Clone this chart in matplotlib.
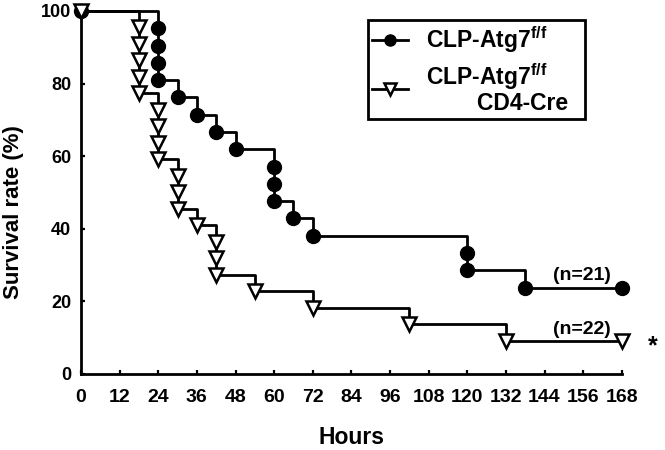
import matplotlib
matplotlib.use('Agg')
import matplotlib.pyplot as plt
from matplotlib.lines import Line2D

# survival data (hours, % surviving)
hours_ff = [0, 24, 24, 24, 24, 30, 36, 42, 48, 60, 60, 60, 66, 72, 120, 120, 138, 168]
surv_ff = [100, 95.24, 90.48, 85.71, 80.95, 76.19, 71.43, 66.67, 61.90, 57.14, 52.38,
           47.62, 42.86, 38.10, 33.33, 28.57, 23.81, 23.81]

hours_cre = [0, 18, 18, 18, 18, 18, 24, 24, 24, 24, 30, 30, 30, 36, 42, 42, 42, 54, 72,
             102, 132, 168]
surv_cre = [100, 95.45, 90.91, 86.36, 81.82, 77.27, 72.73, 68.18, 63.64, 59.09, 54.55,
            50.00, 45.45, 40.91, 36.36, 31.82, 27.27, 22.73, 18.18, 13.64, 9.09, 9.09]

x_ticks = list(range(0, 169, 12))
y_ticks = [0, 20, 40, 60, 80, 100]

plt.rcParams['font.family'] = 'Liberation Sans'
plt.rcParams['font.weight'] = 'bold'
plt.rcParams['mathtext.fontset'] = 'custom'
plt.rcParams['mathtext.rm'] = 'Liberation Sans:bold'
plt.rcParams['mathtext.it'] = 'Liberation Sans:bold'
plt.rcParams['mathtext.bf'] = 'Liberation Sans:bold'

fig = plt.figure(figsize=(6.65, 4.5), dpi=100)
ax = fig.add_axes([0.1218, 0.1689, 0.8132, 0.8067])

lw = 2.0
ax.plot(hours_ff, surv_ff, drawstyle='steps-post', color='black', lw=lw, clip_on=False)
ax.plot(hours_ff, surv_ff, 'o', ms=10, color='black', clip_on=False, zorder=3)
ax.plot(hours_cre, surv_cre, drawstyle='steps-post', color='black', lw=lw, clip_on=False)
ax.plot(hours_cre, surv_cre, 'v', ms=10, mfc='white', mec='black', mew=1.8,
        clip_on=False, zorder=4)

ax.set_xlim(0, 168)
ax.set_ylim(0, 100)
ax.set_xticks(x_ticks)
ax.set_yticks(y_ticks)
for s in ['top', 'right']:
    ax.spines[s].set_visible(False)
for s in ['left', 'bottom']:
    ax.spines[s].set_linewidth(2.0)
ax.tick_params(direction='in', length=3, width=1.6)
ax.tick_params(axis='x', pad=11, labelsize=14)
ax.tick_params(axis='y', pad=7, labelsize=13)

ax.set_xlabel('Hours', fontsize=16.5, fontweight='bold', labelpad=14)
ax.set_ylabel('Survival rate (%)', fontsize=16, fontweight='bold')
ax.yaxis.set_label_coords(-0.105, 0.446)

ax.text(155.7, 27.0, '(n=21)', fontsize=14, fontweight='bold', ha='center', va='center')
ax.text(155.7, 12.2, '(n=22)', fontsize=14, fontweight='bold', ha='center', va='center')
ax.text(177.5, 7.5, '*', fontsize=18, fontweight='bold', ha='center', va='center',
        clip_on=False)

handles = [Line2D([], [], color='black', lw=lw, marker='o', ms=8),
           Line2D([], [], color='black', lw=lw, marker='v', ms=9, mfc='white', mew=1.8)]
labels = ['CLP-Atg7$^{f/f}$', 'CLP-Atg7$^{f/f}$\n        CD4-Cre  ']
leg = ax.legend(handles, labels, loc='upper left', bbox_to_anchor=(0.531, 0.975),
                borderaxespad=0, fancybox=False, framealpha=1, edgecolor='black',
                prop={'family': 'Liberation Sans', 'weight': 'bold', 'size': 16.5},
                handlelength=1.55, handletextpad=0.8, borderpad=0.17, labelspacing=0.3)
leg.get_frame().set_linewidth(2.0)
leg.get_texts()[1].set_linespacing(1.0)

fig.savefig('out.png', dpi=100)
